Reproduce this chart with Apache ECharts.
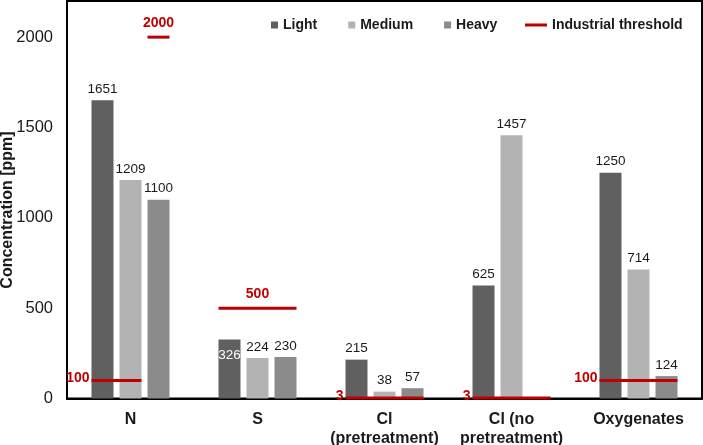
<!DOCTYPE html>
<html>
<head>
<meta charset="utf-8">
<script src="https://cdn.jsdelivr.net/npm/echarts@6/dist/echarts.min.js"></script>
<style>
  html, body { margin: 0; padding: 0; background: #fff; }
  #chart { width: 703px; height: 445px; }
</style>
</head>
<body>
<div id="chart"></div>
<script>
// ---- data ----
const categories = ['N', 'S', 'Cl\n(pretreatment)', 'Cl (no\npretreatment)', 'Oxygenates'];
const seriesNames = ['Light', 'Medium', 'Heavy'];
const lightValues = [1651, 326, 215, 625, 1250];
const mediumValues = [1209, 224, 38, 1457, 714];
const heavyValues = [1100, 230, 57, null, 124];
const yTicks = [0, 500, 1000, 1500, 2000];
// industrial thresholds: category index, value, first and last fraction (0=Light..2=Heavy) it applies to
const thresholdCategory = [0, 0, 1, 2, 3, 4];
const thresholdValues = [100, 2000, 500, 3, 3, 100];
const thresholdFrom = [0, 2, 0, 0, 0, 0];
const thresholdTo = [1, 2, 2, 2, 2, 2];
const thresholdName = 'Industrial threshold';

// ---- styles ----
const FONT = '"Liberation Sans", Arial, sans-serif';
const RED = '#c00000';
const colors = ['#606060', '#b3b3b3', '#8b8b8b'];
const BAR_W = 22, BAR_STEP = 28;

const chart = echarts.init(document.getElementById('chart'), null, { renderer: 'canvas' });

const valueSets = [lightValues, mediumValues, heavyValues];
const barSeries = seriesNames.map((name, si) => ({
  name: name,
  type: 'bar',
  barWidth: BAR_W,
  barGap: ((BAR_STEP - BAR_W) / BAR_W * 100) + '%',
  itemStyle: { color: colors[si] },
  label: {
    show: true, position: 'top', distance: 4,
    fontFamily: FONT, fontSize: 13.5, color: '#1a1a1a'
  },
  data: valueSets[si].map((v, ci) => {
    // a label that doesn't fit above (S, Light) is drawn inside in white, as in the source
    if (si === 0 && ci === 1) {
      return { value: v, label: { position: 'insideTop', distance: 9, color: '#ffffff' } };
    }
    return v;
  })
}));

const thresholdData = thresholdValues.map((v, i) => [thresholdCategory[i], v, thresholdFrom[i], thresholdTo[i]]);

const thresholdSeries = {
  name: thresholdName,
  type: 'custom',
  itemStyle: { color: RED },
  encode: { x: 0, y: 1 },
  z: 5,
  data: thresholdData,
  renderItem: function (params, api) {
    const c = api.coord([api.value(0), api.value(1)]);
    const v = api.value(1);
    const x0 = c[0] + (api.value(2) - 1) * BAR_STEP - BAR_W / 2;
    const x1 = c[0] + (api.value(3) - 1) * BAR_STEP + BAR_W / 2;
    const above = v >= 500;
    return {
      type: 'group',
      children: [
        { type: 'line', shape: { x1: x0, y1: c[1], x2: x1, y2: c[1] }, style: { stroke: RED, lineWidth: 3 } },
        {
          type: 'text',
          style: {
            text: String(v),
            x: above ? (x0 + x1) / 2 : x0 - 2,
            y: above ? c[1] - 14 : c[1] - 2,
            align: above ? 'center' : 'right',
            verticalAlign: 'middle',
            fill: RED,
            font: 'bold 14px ' + FONT
          }
        }
      ]
    };
  }
};

const option = {
  animation: false,
  backgroundColor: '#fff',
  textStyle: { fontFamily: FONT },
  grid: {
    left: 67, right: 1, top: 1, bottom: 46.5,
    show: true, borderColor: '#000', borderWidth: 2,
    containLabel: false, outerBoundsMode: 'none'
  },
  legend: [
    {
      data: seriesNames,
      left: 271, top: 18, padding: 0,
      itemWidth: 7, itemHeight: 7, itemGap: 31,
      icon: 'rect',
      textStyle: { fontFamily: FONT, fontSize: 14, fontWeight: 'bold', color: '#1a1a1a' }
    },
    {
      data: [{ name: thresholdName, icon: 'rect' }],
      left: 525, top: 18, padding: 0,
      itemWidth: 22, itemHeight: 3,
      textStyle: { fontFamily: FONT, fontSize: 14, fontWeight: 'bold', color: '#1a1a1a' }
    }
  ],
  xAxis: {
    type: 'category',
    data: categories,
    axisTick: { show: false },
    axisLine: { lineStyle: { color: '#000', width: 2 } },
    axisLabel: {
      interval: 0, margin: 12,
      fontFamily: FONT, fontSize: 16, fontWeight: 'bold', color: '#1a1a1a', lineHeight: 19
    }
  },
  yAxis: {
    type: 'value',
    min: yTicks[0],
    max: 2200,
    interval: yTicks[1] - yTicks[0],
    splitLine: { show: false },
    axisTick: { show: false },
    axisLine: { show: true, lineStyle: { color: '#000', width: 2 } },
    axisLabel: {
      showMaxLabel: false, margin: 14,
      fontFamily: FONT, fontSize: 16.5, color: '#1a1a1a',
      formatter: v => (yTicks.indexOf(v) >= 0 ? String(v) : '')
    }
  },
  graphic: [
    {
      type: 'text',
      x: 8, y: 210,
      rotation: Math.PI / 2,
      style: {
        text: 'Concentration [ppm]',
        align: 'center', verticalAlign: 'middle',
        font: 'bold 16px ' + FONT, fill: '#1a1a1a'
      }
    }
  ],
  series: barSeries.concat([thresholdSeries])
};

chart.setOption(option);
</script>
</body>
</html>
